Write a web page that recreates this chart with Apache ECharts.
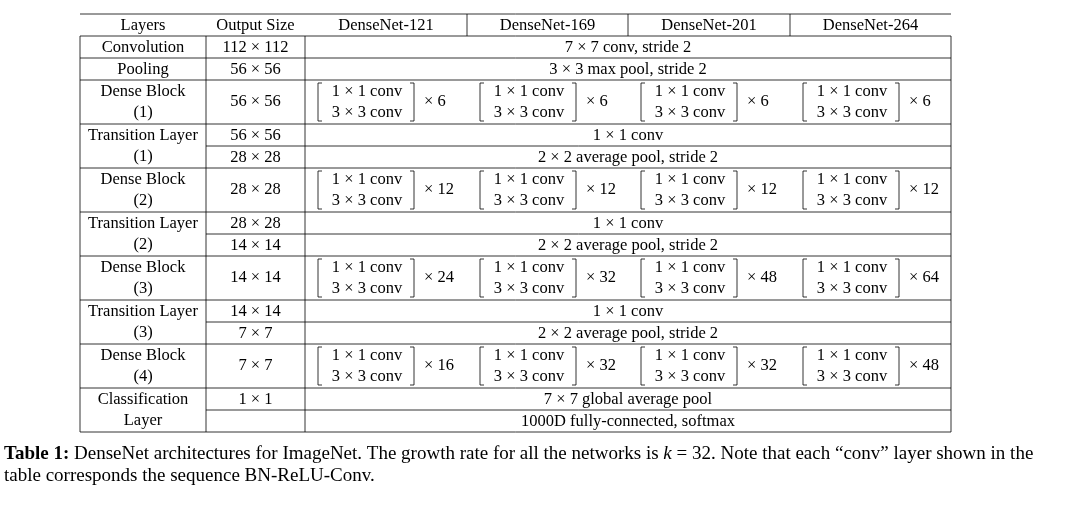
<!DOCTYPE html>
<html><head><meta charset="utf-8">
<script src="https://cdn.jsdelivr.net/npm/echarts@6/dist/echarts.min.js"></script>
<style>html,body{margin:0;background:#fff}#main{width:1086px;height:514px}</style>
</head><body><div id="main"></div>
<script>
var headers = ['Layers', 'Output Size', 'DenseNet-121', 'DenseNet-169', 'DenseNet-201', 'DenseNet-264'];
var layerNames = [['Convolution'], ['Pooling'], ['Dense Block', '(1)'], ['Transition Layer', '(1)'],
	['Dense Block', '(2)'], ['Transition Layer', '(2)'], ['Dense Block', '(3)'], ['Transition Layer', '(3)'],
	['Dense Block', '(4)'], ['Classification', 'Layer']];
var outputSizes = [['112 × 112'], ['56 × 56'], ['56 × 56'], ['56 × 56', '28 × 28'], ['28 × 28'],
	['28 × 28', '14 × 14'], ['14 × 14'], ['14 × 14', '7 × 7'], ['7 × 7'], ['1 × 1']];
var sharedText = [['7 × 7 conv, stride 2'], ['3 × 3 max pool, stride 2'], null,
	['1 × 1 conv', '2 × 2 average pool, stride 2'], null,
	['1 × 1 conv', '2 × 2 average pool, stride 2'], null,
	['1 × 1 conv', '2 × 2 average pool, stride 2'], null,
	['7 × 7 global average pool', '1000D fully-connected, softmax']];
var blockMult = [null, null, [6, 6, 6, 6], null, [12, 12, 12, 12], null, [24, 32, 48, 64], null, [16, 32, 32, 48], null];
var blockLines = ['1 × 1 conv', '3 × 3 conv'];

var colX = [80, 206, 305, 467, 628, 790, 951];
var top0 = 14, headH = 22, lineH = 22;
var font = '16.5px "Liberation Serif", "DejaVu Serif", serif';
var g = [];
function txt(x, y, s, align) {
	g.push({type: 'text', x: x, y: y, style: {text: s, font: font, fill: '#000', align: align || 'center', verticalAlign: 'middle'}});
}
function ln(x1, y1, x2, y2) {
	g.push({type: 'line', shape: {x1: x1, y1: y1, x2: x2, y2: y2}, style: {stroke: '#000', lineWidth: 0.8}});
}
// header
headers.forEach(function (h, i) { txt((colX[i] + colX[i + 1]) / 2, top0 + headH / 2 + 1, h); });
ln(colX[0], top0, colX[6], top0);
for (var i = 3; i < 6; i++) ln(colX[i], top0, colX[i], top0 + headH);
var y = top0 + headH;
ln(colX[0], y, colX[6], y);
var n = layerNames.length;
for (var r = 0; r < n; r++) {
	var h = layerNames[r].length === 1 ? lineH : 2 * lineH;
	var names = layerNames[r];
	if (names.length === 1) txt((colX[0] + colX[1]) / 2, y + lineH / 2 + 1, names[0]);
	else { txt((colX[0] + colX[1]) / 2, y + lineH / 2 + 1, names[0]); txt((colX[0] + colX[1]) / 2, y + lineH * 1.5, names[1]); }
	if (blockMult[r]) {
		txt((colX[1] + colX[2]) / 2, y + h / 2, outputSizes[r][0]);
		for (var c = 0; c < 4; c++) {
			var cx = colX[c + 2];
			txt(cx + 62, y + lineH / 2 + 1, blockLines[0]);
			txt(cx + 62, y + lineH * 1.5, blockLines[1]);
			var bt = y + 3, bb = y + h - 3;
			ln(cx + 13, bt, cx + 13, bb); ln(cx + 13, bt, cx + 17, bt); ln(cx + 13, bb, cx + 17, bb);
			ln(cx + 109, bt, cx + 109, bb); ln(cx + 109, bt, cx + 105, bt); ln(cx + 109, bb, cx + 105, bb);
			txt(cx + 119, y + h / 2, '× ' + blockMult[r][c], 'left');
		}
	} else {
		for (var k = 0; k < sharedText[r].length; k++) {
			if (outputSizes[r][k]) txt((colX[1] + colX[2]) / 2, y + lineH * (k + 0.5) + 1, outputSizes[r][k]);
			txt((colX[2] + colX[6]) / 2, y + lineH * (k + 0.5) + 1, sharedText[r][k]);
		}
		if (sharedText[r].length === 2) ln(colX[1], y + lineH, colX[6], y + lineH);
	}
	ln(colX[0], y, colX[0], y + h); ln(colX[1], y, colX[1], y + h);
	ln(colX[2], y, colX[2], y + h); ln(colX[6], y, colX[6], y + h);
	y += h;
	ln(colX[0], y, colX[6], y);
}
g.push({type: 'text', x: 4, y: 454, style: {
	text: '{b|Table 1:} DenseNet architectures for ImageNet. The growth rate for all the networks is {i|k} = 32. Note that each “conv” layer shown in the',
	font: '19px "Liberation Serif", serif', fill: '#000', verticalAlign: 'middle',
	rich: {b: {fontWeight: 'bold', fontFamily: 'Liberation Serif', fontSize: 19}, i: {fontStyle: 'italic', fontFamily: 'Liberation Serif', fontSize: 19}}}});
g.push({type: 'text', x: 4, y: 476, style: {text: 'table corresponds the sequence BN-ReLU-Conv.', font: '19px "Liberation Serif", serif', fill: '#000', verticalAlign: 'middle'}});

var chart = echarts.init(document.getElementById('main'));
chart.setOption({animation: false, graphic: g});
</script></body></html>
